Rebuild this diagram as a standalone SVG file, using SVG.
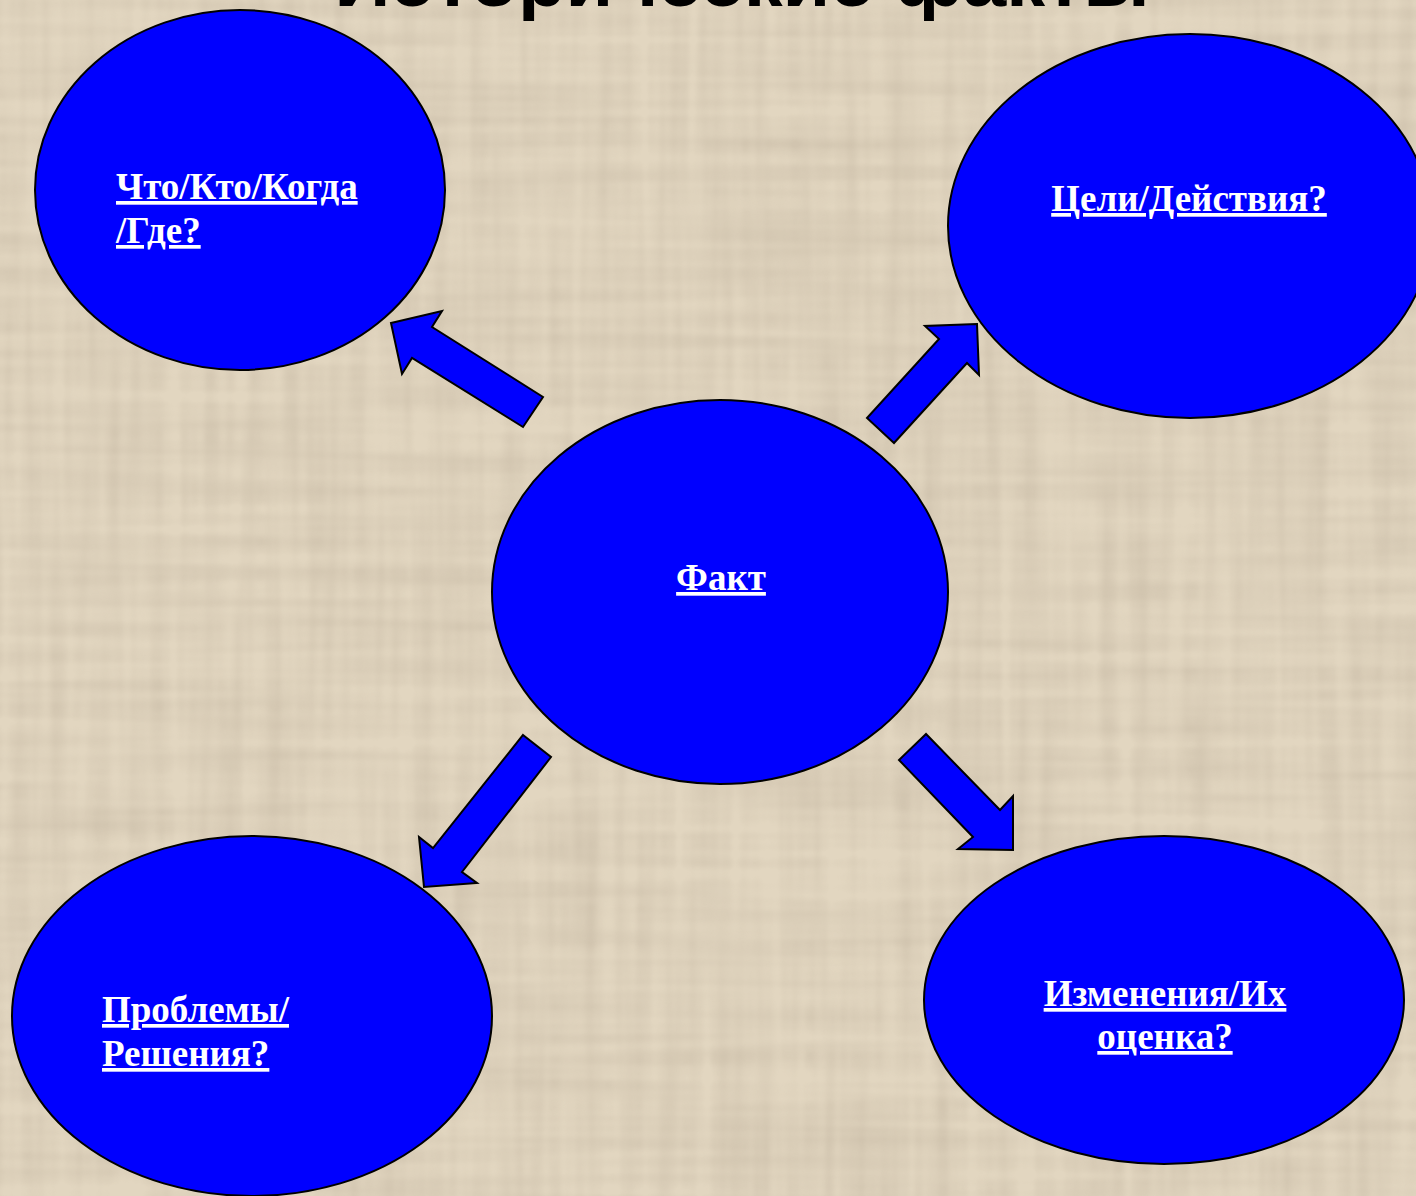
<svg xmlns="http://www.w3.org/2000/svg" width="1416" height="1196" viewBox="0 0 1416 1196">
<defs>
<style>
.node ellipse{fill:#0000ff;stroke:#000;stroke-width:2}
.lbl{font-family:"Liberation Serif","Times New Roman",serif;font-weight:bold;font-size:37px;fill:#fff;text-decoration:underline}
.arrow{fill:#0000ff;stroke:#000;stroke-width:2;stroke-linejoin:miter}
</style>
<filter id="tex" x="0" y="0" width="100%" height="100%">
<feTurbulence type="fractalNoise" baseFrequency="0.003 0.06" numOctaves="2" seed="3" result="h"/>
<feTurbulence type="fractalNoise" baseFrequency="0.06 0.003" numOctaves="2" seed="7" result="v"/>
<feComposite in="h" in2="v" operator="arithmetic" k2="0.5" k3="0.5" result="n"/>
<feColorMatrix in="n" type="matrix" values="0 0 0 0 0.55  0 0 0 0 0.47  0 0 0 0 0.36  -2.2 0 0 0 1.45"/>
</filter>
</defs>
<rect width="1416" height="1196" fill="#e2d6c0"/>
<rect width="1416" height="1196" filter="url(#tex)" opacity="0.55"/>
<text x="742" y="6" font-family="Liberation Sans, Arial, sans-serif" font-weight="bold" font-size="72" text-anchor="middle" textLength="815" lengthAdjust="spacingAndGlyphs" fill="#000">Исторические факты</text>
<g id="connectors">
<polygon class="arrow" points="391,323 442,311 432,327 543,397 523,427 412,358 402,374"/>
<polygon class="arrow" points="977,324 925,326 939,339 867,418 894,443 967,363 979,375"/>
<polygon class="arrow" points="523,735 551,757 462,872 477,883 424,887 419,837 433,848"/>
<polygon class="arrow" points="926,734 899,760 973,837 958,849 1013,850 1013,796 1000,810"/>
</g>
<g id="node-who" class="node">
<ellipse cx="240" cy="190" rx="205" ry="180"/>
<text class="lbl" x="116" y="199">Что/Кто/Когда</text>
<text class="lbl" x="116" y="243">/Где?</text>
</g>
<g id="node-goals" class="node">
<ellipse cx="1190" cy="226" rx="242" ry="192"/>
<text class="lbl" x="1189" y="211" text-anchor="middle">Цели/Действия?</text>
</g>
<g id="node-fact" class="node">
<ellipse cx="720" cy="592" rx="228" ry="192"/>
<text class="lbl" x="721" y="590" text-anchor="middle">Факт</text>
</g>
<g id="node-problems" class="node">
<ellipse cx="252" cy="1016" rx="240" ry="180"/>
<text class="lbl" x="102" y="1022">Проблемы/</text>
<text class="lbl" x="102" y="1066">Решения?</text>
</g>
<g id="node-changes" class="node">
<ellipse cx="1164" cy="1000" rx="240" ry="164"/>
<text class="lbl" x="1165" y="1006" text-anchor="middle">Изменения/Их</text>
<text class="lbl" x="1165" y="1049" text-anchor="middle">оценка?</text>
</g>
</svg>
